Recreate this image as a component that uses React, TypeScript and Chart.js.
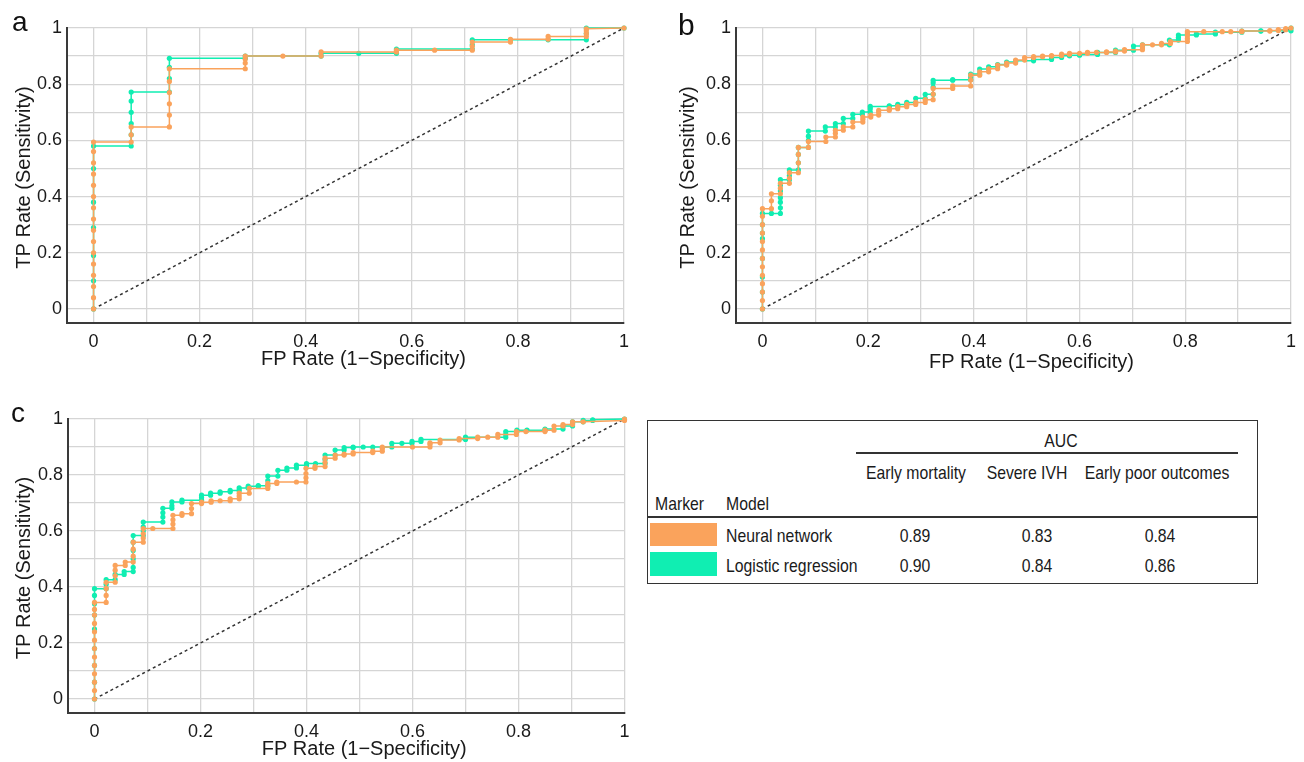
import React, { useEffect, useRef } from 'react';
import { Chart, registerables } from 'chart.js';

Chart.register(...registerables);
Chart.defaults.font.family = "'Liberation Sans', Arial, sans-serif";

type Pt = [number, number];

const ORANGE = 'rgb(250,163,92)';
const TEAL = 'rgb(16,238,178)';

const GRID_TICKS = [0, 0.1, 0.2, 0.3, 0.4, 0.5, 0.6, 0.7, 0.8, 0.9, 1];
const TICK_LABELS = ['0', '0.2', '0.4', '0.6', '0.8', '1'];
const X_TITLE = 'FP Rate (1\u2212Specificity)';
const Y_TITLE = 'TP Rate (Sensitivity)';
const DIAGONAL: Pt[] = [[0, 0], [1, 1]];

// Panel a: early mortality
const nnA: Pt[] = [
  [0, 0], [0, 0.04], [0, 0.08], [0, 0.12], [0, 0.16], [0, 0.2], [0, 0.24], [0, 0.28], [0, 0.32], [0, 0.36],
  [0, 0.4], [0, 0.44], [0, 0.48], [0, 0.52], [0, 0.56], [0, 0.594],
  [0.071, 0.594], [0.071, 0.62], [0.071, 0.648],
  [0.143, 0.648], [0.143, 0.69], [0.143, 0.73], [0.143, 0.77], [0.143, 0.81], [0.143, 0.855],
  [0.286, 0.855], [0.286, 0.875], [0.286, 0.89], [0.286, 0.9],
  [0.357, 0.9], [0.429, 0.9], [0.429, 0.915],
  [0.571, 0.915], [0.571, 0.921], [0.643, 0.921],
  [0.714, 0.921], [0.714, 0.935], [0.714, 0.95],
  [0.786, 0.95], [0.786, 0.96], [0.857, 0.96], [0.857, 0.97],
  [0.929, 0.97], [0.929, 0.98], [0.929, 0.99], [0.929, 0.997], [1, 1],
];
const lrA: Pt[] = [
  [0, 0], [0, 0.1], [0, 0.19], [0, 0.29], [0, 0.38], [0, 0.5], [0, 0.58],
  [0.071, 0.58], [0.071, 0.62], [0.071, 0.66], [0.071, 0.7], [0.071, 0.74], [0.071, 0.772],
  [0.143, 0.772], [0.143, 0.82], [0.143, 0.86], [0.143, 0.892],
  [0.286, 0.892], [0.286, 0.9], [0.429, 0.9], [0.429, 0.91],
  [0.5, 0.91], [0.571, 0.91], [0.571, 0.925],
  [0.714, 0.925], [0.714, 0.94], [0.714, 0.958],
  [0.786, 0.958], [0.857, 0.958], [0.929, 0.958], [0.929, 0.98], [0.929, 1], [1, 1],
];

// Panel b: severe IVH
const nnB: Pt[] = [
  [0, 0], [0, 0.03], [0, 0.06], [0, 0.09], [0, 0.12], [0, 0.15], [0, 0.18], [0, 0.21], [0, 0.24], [0, 0.27],
  [0, 0.3], [0, 0.33], [0, 0.357],
  [0.017, 0.357], [0.017, 0.385], [0.017, 0.41],
  [0.034, 0.41], [0.034, 0.43], [0.034, 0.447],
  [0.051, 0.447], [0.051, 0.465], [0.051, 0.485],
  [0.068, 0.485], [0.068, 0.52], [0.068, 0.55], [0.068, 0.575],
  [0.087, 0.575], [0.087, 0.596],
  [0.12, 0.596], [0.12, 0.612],
  [0.138, 0.612], [0.138, 0.625], [0.138, 0.636],
  [0.153, 0.636], [0.153, 0.648],
  [0.171, 0.648], [0.171, 0.665],
  [0.19, 0.665], [0.19, 0.675], [0.19, 0.683],
  [0.205, 0.683], [0.205, 0.69],
  [0.22, 0.69], [0.22, 0.7], [0.22, 0.707],
  [0.24, 0.707], [0.24, 0.713],
  [0.256, 0.713], [0.256, 0.72],
  [0.273, 0.72], [0.273, 0.728],
  [0.29, 0.728], [0.29, 0.735],
  [0.308, 0.735], [0.308, 0.745],
  [0.323, 0.745], [0.323, 0.765], [0.323, 0.785],
  [0.36, 0.785], [0.36, 0.794],
  [0.394, 0.794], [0.394, 0.815], [0.394, 0.832],
  [0.411, 0.832], [0.411, 0.844],
  [0.428, 0.844], [0.428, 0.855],
  [0.445, 0.855], [0.445, 0.868],
  [0.462, 0.868], [0.462, 0.875],
  [0.479, 0.875], [0.479, 0.886],
  [0.496, 0.886], [0.496, 0.895],
  [0.513, 0.895], [0.513, 0.898],
  [0.53, 0.898], [0.53, 0.9],
  [0.547, 0.9], [0.547, 0.902],
  [0.566, 0.902], [0.566, 0.907],
  [0.581, 0.907], [0.581, 0.91], [0.6, 0.91],
  [0.615, 0.91], [0.615, 0.913], [0.632, 0.913],
  [0.651, 0.913], [0.651, 0.915],
  [0.668, 0.915], [0.668, 0.918],
  [0.685, 0.918], [0.685, 0.923],
  [0.719, 0.923], [0.719, 0.93], [0.719, 0.94],
  [0.738, 0.94], [0.755, 0.94], [0.755, 0.945],
  [0.772, 0.945], [0.772, 0.952],
  [0.804, 0.952], [0.804, 0.962], [0.804, 0.972], [0.804, 0.98], [0.804, 0.987],
  [0.835, 0.987], [0.87, 0.987], [0.886, 0.987], [0.907, 0.987], [0.907, 0.989],
  [0.96, 0.989], [0.96, 0.991], [0.976, 0.991], [0.976, 0.994], [0.99, 0.994], [0.99, 0.998], [1, 1],
];
const lrB: Pt[] = [
  [0, 0], [0, 0.06], [0, 0.114], [0, 0.18], [0, 0.25], [0, 0.27], [0, 0.3], [0, 0.34],
  [0.017, 0.34],
  [0.034, 0.34], [0.034, 0.36], [0.034, 0.38], [0.034, 0.396], [0.034, 0.42], [0.034, 0.44], [0.034, 0.46],
  [0.051, 0.46], [0.051, 0.475], [0.051, 0.495],
  [0.068, 0.495], [0.068, 0.52], [0.068, 0.55], [0.068, 0.575],
  [0.087, 0.575], [0.087, 0.6], [0.087, 0.615], [0.087, 0.633],
  [0.119, 0.633], [0.119, 0.648],
  [0.138, 0.648], [0.138, 0.66],
  [0.153, 0.66], [0.153, 0.678],
  [0.171, 0.678], [0.171, 0.693],
  [0.189, 0.693], [0.189, 0.701],
  [0.204, 0.701], [0.204, 0.713], [0.204, 0.721],
  [0.24, 0.721], [0.24, 0.723],
  [0.256, 0.723], [0.256, 0.728],
  [0.273, 0.728], [0.273, 0.735],
  [0.29, 0.735], [0.29, 0.75],
  [0.308, 0.75], [0.308, 0.764],
  [0.323, 0.764], [0.323, 0.79], [0.323, 0.805], [0.323, 0.814],
  [0.36, 0.814], [0.36, 0.816],
  [0.394, 0.816], [0.394, 0.826], [0.394, 0.836],
  [0.411, 0.836], [0.411, 0.854],
  [0.428, 0.854], [0.428, 0.862],
  [0.445, 0.862], [0.445, 0.87],
  [0.462, 0.87], [0.462, 0.879],
  [0.479, 0.879], [0.479, 0.883],
  [0.513, 0.883], [0.513, 0.888],
  [0.547, 0.888], [0.547, 0.895],
  [0.566, 0.895], [0.566, 0.901],
  [0.581, 0.901], [0.581, 0.903],
  [0.6, 0.903], [0.6, 0.906],
  [0.634, 0.906], [0.634, 0.913],
  [0.668, 0.913], [0.668, 0.921],
  [0.702, 0.921], [0.702, 0.936],
  [0.719, 0.936], [0.719, 0.94],
  [0.77, 0.94], [0.77, 0.957],
  [0.787, 0.957], [0.787, 0.966], [0.787, 0.975],
  [0.821, 0.975], [0.821, 0.979],
  [0.857, 0.979], [0.857, 0.985],
  [0.907, 0.985], [0.907, 0.989],
  [0.943, 0.989], [0.943, 0.99], [1, 0.99], [1, 1],
];

// Panel c: early poor outcomes
const nnC: Pt[] = [
  [0, 0], [0, 0.03], [0, 0.06], [0, 0.09], [0, 0.12], [0, 0.15], [0, 0.18], [0, 0.21], [0, 0.24], [0, 0.27],
  [0, 0.3], [0, 0.32], [0, 0.345],
  [0.022, 0.345], [0.022, 0.37], [0.022, 0.395], [0.022, 0.417],
  [0.039, 0.417], [0.039, 0.44], [0.039, 0.46], [0.039, 0.477],
  [0.058, 0.477], [0.058, 0.489],
  [0.073, 0.489], [0.073, 0.51], [0.073, 0.535], [0.073, 0.56],
  [0.092, 0.56], [0.092, 0.575], [0.092, 0.59], [0.092, 0.609],
  [0.11, 0.609], [0.148, 0.609], [0.148, 0.625], [0.148, 0.64], [0.148, 0.656],
  [0.165, 0.656], [0.165, 0.662],
  [0.183, 0.662], [0.183, 0.68], [0.183, 0.698],
  [0.202, 0.698], [0.202, 0.703],
  [0.22, 0.703], [0.22, 0.708], [0.237, 0.708],
  [0.256, 0.708], [0.256, 0.715],
  [0.273, 0.715], [0.273, 0.725], [0.273, 0.735],
  [0.292, 0.735], [0.292, 0.752],
  [0.327, 0.752], [0.327, 0.762], [0.327, 0.77],
  [0.344, 0.77], [0.344, 0.775], [0.381, 0.775],
  [0.399, 0.775], [0.399, 0.79], [0.399, 0.805], [0.399, 0.824],
  [0.416, 0.824], [0.416, 0.83],
  [0.435, 0.83], [0.435, 0.845], [0.435, 0.86],
  [0.454, 0.86], [0.454, 0.871],
  [0.471, 0.871], [0.471, 0.875],
  [0.488, 0.875], [0.488, 0.88],
  [0.525, 0.88], [0.525, 0.885],
  [0.543, 0.885], [0.543, 0.895], [0.543, 0.9],
  [0.6, 0.9], [0.633, 0.9], [0.633, 0.91], [0.633, 0.915],
  [0.652, 0.915], [0.652, 0.925],
  [0.688, 0.925], [0.688, 0.93],
  [0.723, 0.93], [0.723, 0.935], [0.742, 0.935],
  [0.761, 0.935], [0.761, 0.945],
  [0.796, 0.945], [0.796, 0.955], [0.814, 0.955],
  [0.85, 0.955], [0.85, 0.96],
  [0.867, 0.96], [0.867, 0.975],
  [0.884, 0.975], [0.884, 0.98],
  [0.902, 0.98], [0.902, 0.99], [0.922, 0.99], [1, 0.995], [1, 1],
];
const lrC: Pt[] = [
  [0, 0], [0, 0.06], [0, 0.12], [0, 0.18], [0, 0.25], [0, 0.3], [0, 0.34], [0, 0.37], [0, 0.394],
  [0.022, 0.394], [0.022, 0.41], [0.022, 0.426],
  [0.039, 0.426], [0.039, 0.445],
  [0.056, 0.445], [0.056, 0.455],
  [0.073, 0.455], [0.073, 0.47], [0.073, 0.5], [0.073, 0.53], [0.073, 0.56], [0.073, 0.584],
  [0.092, 0.584], [0.092, 0.6], [0.092, 0.615], [0.092, 0.632],
  [0.129, 0.632], [0.129, 0.65], [0.129, 0.665], [0.129, 0.681],
  [0.146, 0.681], [0.146, 0.69], [0.146, 0.704],
  [0.165, 0.704], [0.165, 0.71],
  [0.202, 0.71], [0.202, 0.72], [0.202, 0.728],
  [0.219, 0.728], [0.219, 0.735],
  [0.237, 0.735], [0.237, 0.74],
  [0.256, 0.74], [0.256, 0.745],
  [0.273, 0.745], [0.273, 0.754],
  [0.29, 0.754], [0.29, 0.76],
  [0.309, 0.76], [0.309, 0.762],
  [0.327, 0.762], [0.327, 0.78], [0.327, 0.796],
  [0.346, 0.796], [0.346, 0.817],
  [0.363, 0.817], [0.363, 0.825],
  [0.381, 0.825], [0.381, 0.835],
  [0.4, 0.835], [0.4, 0.841], [0.417, 0.841],
  [0.435, 0.841], [0.435, 0.855], [0.435, 0.871],
  [0.454, 0.871], [0.454, 0.889],
  [0.471, 0.889], [0.471, 0.898],
  [0.488, 0.898], [0.488, 0.9], [0.507, 0.9], [0.525, 0.9],
  [0.561, 0.9], [0.561, 0.913], [0.58, 0.913],
  [0.599, 0.913], [0.599, 0.92],
  [0.616, 0.92], [0.616, 0.927],
  [0.7, 0.927], [0.7, 0.935],
  [0.776, 0.935], [0.776, 0.945], [0.776, 0.955],
  [0.797, 0.955], [0.797, 0.96], [0.816, 0.96],
  [0.85, 0.96], [0.85, 0.964],
  [0.884, 0.964], [0.884, 0.975],
  [0.902, 0.975], [0.902, 0.985], [0.902, 0.99],
  [0.922, 0.99], [0.922, 0.995],
  [0.94, 0.995], [0.94, 0.997], [1, 1],
];

// Table
const TABLE_GROUP = 'AUC';
const TABLE_COLUMNS = ['Early mortality', 'Severe IVH', 'Early poor outcomes'];
const MODELS = ['Neural network', 'Logistic regression'];
const AUC_NN = ['0.89', '0.83', '0.84'];
const AUC_LR = ['0.90', '0.84', '0.86'];

const toXY = (pts: Pt[]) => pts.map(([x, y]) => ({ x, y }));

interface PanelProps {
  nn: Pt[];
  lr: Pt[];
  left: number;
  top: number;
  width: number;
  height: number;
  pad: { left: number; top: number; right: number; bottom: number };
  yWidth: number;
  xHeight: number;
  xTitleDx: number;
  xTitleBaseline: number;
  yTitleGap: number;
}

function RocPanel(p: PanelProps) {
  const ref = useRef<HTMLCanvasElement | null>(null);
  useEffect(() => {
    if (!ref.current) return;
    const setTicks = (s: any) => {
      s.ticks = GRID_TICKS.map((v) => ({ value: v }));
    };
    const label = (v: any) => {
      const i = Math.round(Number(v) * 10);
      return i % 2 === 0 ? TICK_LABELS[i / 2] : '';
    };
    const gridOpts = { color: '#d5d5d5', lineWidth: 1.3, drawTicks: false };
    const borderOpts = { display: true, color: '#3a3a3a', width: 2 };
    const tickFont = { size: 18 };
    const lineDs = (data: Pt[], color: string, order: number) => ({
      data: toXY(data),
      borderColor: color,
      backgroundColor: color,
      borderWidth: 1.5,
      pointRadius: 2.6,
      pointBorderWidth: 0,
      pointBackgroundColor: color,
      pointHoverRadius: 0,
      tension: 0,
      clip: false as any,
      order,
    });
    const axisTitles = {
      id: 'axisTitles',
      afterDraw(chart: any) {
        const { ctx, chartArea } = chart;
        ctx.save();
        ctx.fillStyle = '#1a1a1a';
        ctx.font = "20px 'Liberation Sans', Arial, sans-serif";
        ctx.textAlign = 'center';
        ctx.textBaseline = 'alphabetic';
        ctx.fillText(X_TITLE, (chartArea.left + chartArea.right) / 2 + p.xTitleDx, chartArea.bottom + p.xTitleBaseline);
        ctx.translate(chartArea.left - p.yTitleGap, (chartArea.top + chartArea.bottom) / 2 + 2);
        ctx.rotate(-Math.PI / 2);
        ctx.textBaseline = 'middle';
        ctx.fillText(Y_TITLE, 0, 0);
        ctx.restore();
      },
    };
    const chart = new Chart(ref.current, {
      type: 'line',
      data: {
        datasets: [
          lineDs(p.nn, ORANGE, 0) as any,
          lineDs(p.lr, TEAL, 1) as any,
          {
            data: toXY(DIAGONAL),
            borderColor: '#333',
            borderDash: [3, 3],
            borderWidth: 1.5,
            pointRadius: 0,
            order: 2,
            clip: false,
          } as any,
        ],
      },
      options: {
        animation: false,
        responsive: false,
        devicePixelRatio: 1,
        events: [],
        layout: { padding: p.pad },
        plugins: { legend: { display: false }, tooltip: { enabled: false } },
        scales: {
          x: {
            type: 'linear',
            min: -0.05,
            max: 1,
            afterBuildTicks: setTicks,
            afterFit: (s: any) => {
              s.height = p.xHeight;
            },
            grid: gridOpts,
            border: borderOpts,
            ticks: { padding: 8, font: tickFont, color: '#1a1a1a', maxRotation: 0, autoSkip: false, callback: label },
            title: { display: false },
          },
          y: {
            type: 'linear',
            min: -0.05,
            max: 1,
            afterBuildTicks: setTicks,
            afterFit: (s: any) => {
              s.width = p.yWidth;
            },
            grid: gridOpts,
            border: borderOpts,
            ticks: { padding: 5, font: tickFont, color: '#1a1a1a', autoSkip: false, callback: label },
            title: { display: false },
          },
        },
      } as any,
      plugins: [axisTitles],
    });
    return () => chart.destroy();
  }, []);
  return (
    <canvas
      ref={ref}
      width={p.width}
      height={p.height}
      style={{ position: 'absolute', left: p.left, top: p.top, width: p.width, height: p.height }}
    />
  );
}

const SQUEEZE = 0.83;
const abs = (extra: React.CSSProperties): React.CSSProperties => ({ position: 'absolute', ...extra });
const centered = (x: number, y: number): React.CSSProperties =>
  abs({ left: x, top: y, transform: `translate(-50%, -50%) scaleX(${SQUEEZE})`, whiteSpace: 'nowrap', lineHeight: 1 });
const leftMid = (x: number, y: number): React.CSSProperties =>
  abs({
    left: x,
    top: y,
    transformOrigin: 'left center',
    transform: `translate(0, -50%) scaleX(${SQUEEZE})`,
    whiteSpace: 'nowrap',
    lineHeight: 1,
  });

function AucTable() {
  const colX = [916, 1027, 1157];
  const valX = [915, 1037, 1160];
  return (
    <div
      style={abs({
        left: 0,
        top: 0,
        fontFamily: "'Liberation Sans', Arial, sans-serif",
        fontSize: 19,
        color: '#1a1a1a',
      })}
    >
      <div style={abs({ left: 647, top: 420, width: 611, height: 164, border: '1.5px solid #333', boxSizing: 'border-box' })} />
      <span style={centered(1061, 440)}>{TABLE_GROUP}</span>
      <div style={abs({ left: 856, top: 452, width: 382, height: 1.5, background: '#333' })} />
      {TABLE_COLUMNS.map((c, i) => (
        <span key={c} style={centered(colX[i], 472)}>{c}</span>
      ))}
      <span style={leftMid(655, 503)}>Marker</span>
      <span style={leftMid(726, 503)}>Model</span>
      <div style={abs({ left: 647, top: 516, width: 611, height: 2, background: '#333' })} />
      <div style={abs({ left: 650, top: 523, width: 67, height: 23, background: ORANGE })} />
      <div style={abs({ left: 650, top: 552, width: 67, height: 24, background: TEAL })} />
      <span style={leftMid(726, 535)}>{MODELS[0]}</span>
      <span style={leftMid(726, 565)}>{MODELS[1]}</span>
      {AUC_NN.map((v, i) => (
        <span key={'nn' + i} style={centered(valX[i], 535)}>{v}</span>
      ))}
      {AUC_LR.map((v, i) => (
        <span key={'lr' + i} style={centered(valX[i], 565)}>{v}</span>
      ))}
    </div>
  );
}

export default function App() {
  const letterStyle = (x: number, y: number, size: number): React.CSSProperties =>
    abs({ left: x, top: y, fontSize: size, lineHeight: 1, fontFamily: "'Liberation Sans', Arial, sans-serif", color: '#111' });
  return (
    <div style={abs({ left: 0, top: 0, width: 1304, height: 762, background: '#fff', overflow: 'hidden' })}>
      <RocPanel nn={nnA} lr={lrA} left={0} top={0} width={640} height={370}
        pad={{ left: 13, top: 28, right: 16, bottom: 0 }} yWidth={54} xHeight={47}
        xTitleDx={18} xTitleBaseline={42} yTitleGap={43} />
      <RocPanel nn={nnB} lr={lrB} left={660} top={0} width={644} height={373}
        pad={{ left: 17, top: 28, right: 12, bottom: 0 }} yWidth={59} xHeight={50}
        xTitleDx={18} xTitleBaseline={45} yTitleGap={48} />
      <RocPanel nn={nnC} lr={lrC} left={0} top={390} width={640} height={370}
        pad={{ left: 13, top: 29, right: 15.5, bottom: 0 }} yWidth={55} xHeight={47}
        xTitleDx={18} xTitleBaseline={42} yTitleGap={44} />
      <div style={letterStyle(12, 8, 28)}>a</div>
      <div style={letterStyle(678, 10, 30)}>b</div>
      <div style={letterStyle(11, 399, 28)}>c</div>
      <AucTable />
    </div>
  );
}
